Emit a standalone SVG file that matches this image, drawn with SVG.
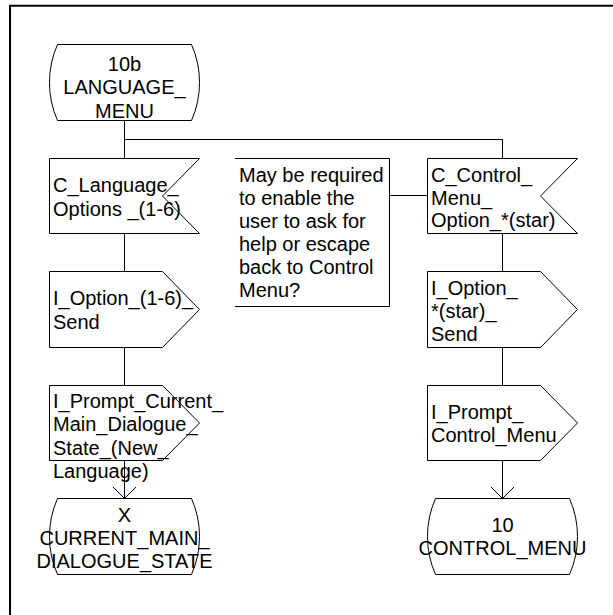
<svg xmlns="http://www.w3.org/2000/svg" width="613" height="615" viewBox="0 0 613 615">
  <style>
    .sym { fill: #ffffff; stroke: #000000; stroke-width: 1; }
    .lbl { font-family: "Liberation Sans", Arial, sans-serif; font-size: 20px; fill: #000000; }
    .mid { text-anchor: middle; }
    .flow { fill: none; stroke: #000000; stroke-width: 1; }
    .note { fill: none; stroke: #000000; stroke-width: 1; }
  </style>
  <defs>
    <marker id="openArrow" markerUnits="userSpaceOnUse" markerWidth="26" markerHeight="26" viewBox="-13 -13 26 26" refX="0" refY="0" orient="auto">
      <path d="M-11.5 -11.5 L0 0 L-11.5 11.5" fill="none" stroke="#000000" stroke-width="1"/>
    </marker>
  </defs>

  <rect width="613" height="615" fill="#ffffff"/>
  <!-- page frame (top and left edges) -->
  <path d="M10 615 V5.7 H613" fill="none" stroke="#000000" stroke-width="2"/>

  <!-- connectors -->
  <g id="connectors">
    <path class="flow" d="M124.5 120.5 V158.5"/>
    <path class="flow" d="M124.5 139.5 H502.5 V158.5"/>
    <path class="flow" d="M124.5 233.5 V271.5"/>
    <path class="flow" d="M124.5 347.5 V385.5"/>
    <path class="flow" d="M124.5 460.5 V498.5" marker-end="url(#openArrow)"/>
    <path class="flow" d="M502.5 233.5 V271.5"/>
    <path class="flow" d="M502.5 347.5 V385.5"/>
    <path class="flow" d="M502.5 460.5 V498.5" marker-end="url(#openArrow)"/>
    <path class="flow" d="M389.5 195.5 H427.5"/>
  </g>

  <!-- start state -->
  <g id="state-language-menu">
    <path class="sym" d="M57.5 44.5 H191.5 A94 94 0 0 1 191.5 120.5 H57.5 A94 94 0 0 1 57.5 44.5 Z"/>
    <text class="lbl mid" x="124.5" y="70.5">10b</text>
    <text class="lbl mid" x="124.5" y="94">LANGUAGE_</text>
    <text class="lbl mid" x="124.5" y="117.5">MENU</text>
  </g>

  <!-- input: language options -->
  <g id="input-language-options">
    <path class="sym" d="M49.5 158.5 H199.5 L162.5 196 L199.5 233.5 H49.5 Z"/>
    <text class="lbl" x="53" y="192">C_Language_</text>
    <text class="lbl" x="53" y="215.5">Options _(1-6)</text>
  </g>

  <!-- output: option send -->
  <g id="output-option-send">
    <path class="sym" d="M49.5 271.5 H162.5 L199.5 309.5 L162.5 347.5 H49.5 Z"/>
    <text class="lbl" x="53" y="305">I_Option_(1-6)_</text>
    <text class="lbl" x="53" y="328.5">Send</text>
  </g>

  <!-- output: prompt current main dialogue state -->
  <g id="output-prompt-current">
    <path class="sym" d="M49.5 385.5 H162.5 L199.5 423 L162.5 460.5 H49.5 Z"/>
    <text class="lbl" x="53" y="407.5">I_Prompt_Current_</text>
    <text class="lbl" x="53" y="431">Main_Dialogue_</text>
    <text class="lbl" x="53" y="454.5">State_(New_</text>
    <text class="lbl" x="53" y="478">Language)</text>
  </g>

  <!-- next state: current main dialogue state -->
  <g id="state-current-main">
    <path class="sym" d="M57.5 498.5 H191.5 A94 94 0 0 1 191.5 574.5 H57.5 A94 94 0 0 1 57.5 498.5 Z"/>
    <text class="lbl mid" x="124.5" y="521.5">X</text>
    <text class="lbl mid" x="124.5" y="545">CURRENT_MAIN_</text>
    <text class="lbl mid" x="124.5" y="568">DIALOGUE_STATE</text>
  </g>

  <!-- comment -->
  <g id="comment">
    <path class="note" d="M235 158.5 H389.5 V306.5 H235"/>
    <text class="lbl" x="239" y="181.5">May be required</text>
    <text class="lbl" x="239" y="204.5">to enable the</text>
    <text class="lbl" x="239" y="227.5">user to ask for</text>
    <text class="lbl" x="239" y="250.5">help or escape</text>
    <text class="lbl" x="239" y="273.5">back to Control</text>
    <text class="lbl" x="239" y="296.5">Menu?</text>
  </g>

  <!-- input: control menu option star -->
  <g id="input-control-menu-star">
    <path class="sym" d="M427.5 158.5 H577.5 L540.5 196 L577.5 233.5 H427.5 Z"/>
    <text class="lbl" x="431" y="181.5">C_Control_</text>
    <text class="lbl" x="431" y="204.5">Menu_</text>
    <text class="lbl" x="431" y="227">Option_*(star)</text>
  </g>

  <!-- output: option star send -->
  <g id="output-option-star-send">
    <path class="sym" d="M427.5 271.5 H540.5 L577.5 309.5 L540.5 347.5 H427.5 Z"/>
    <text class="lbl" x="431" y="295">I_Option_</text>
    <text class="lbl" x="431" y="318">*(star)_</text>
    <text class="lbl" x="431" y="341">Send</text>
  </g>

  <!-- output: prompt control menu -->
  <g id="output-prompt-control">
    <path class="sym" d="M427.5 385.5 H540.5 L577.5 423 L540.5 460.5 H427.5 Z"/>
    <text class="lbl" x="431" y="419">I_Prompt_</text>
    <text class="lbl" x="431" y="442">Control_Menu</text>
  </g>

  <!-- next state: control menu -->
  <g id="state-control-menu">
    <path class="sym" d="M435.5 498.5 H569.5 A94 94 0 0 1 569.5 574.5 H435.5 A94 94 0 0 1 435.5 498.5 Z"/>
    <text class="lbl mid" x="502.5" y="531.5">10</text>
    <text class="lbl mid" x="502.5" y="555">CONTROL_MENU</text>
  </g>
</svg>
